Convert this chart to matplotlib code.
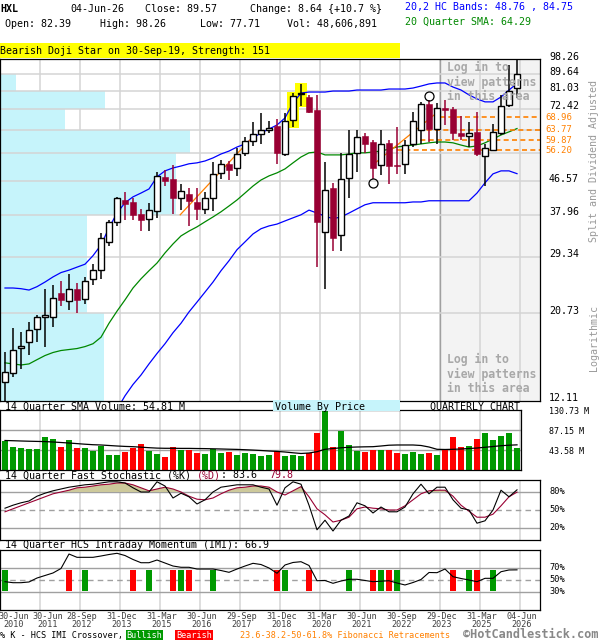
import numpy as np
import matplotlib
matplotlib.use("Agg")
import matplotlib.pyplot as plt
import matplotlib.transforms as mtransforms
from matplotlib.patches import Rectangle

plt.rcParams['font.family'] = ['DejaVu Sans Mono']

# -------------- Quarterly data, 30-Jun-2010 .. 04-Jun-2026 ----------------
ticker = 'HXL'
last_date = '04-Jun-26'
last_volume = 48606891

opens = [13.6, 14.4, 16.8, 17.4, 18.8, 20.2, 20.2, 23.5, 22.4, 24.0,
         22.6, 25.6, 27.0, 32.1, 36.2, 41.6, 41.0, 38.0, 37.0, 38.8,
         47.9, 47.2, 42.1, 43.0, 41.0, 39.2, 41.9, 49.0, 51.8, 50.5,
         55.2, 59.7, 62.2, 63.7, 65.1, 55.1, 67.7, 79.5, 78.0, 72.0,
         34.1, 44.7, 33.4, 47.6, 55.5, 61.5, 59.3, 51.4, 58.9, 51.4,
         51.7, 58.5, 63.8, 74.9, 64.3, 72.7, 72.3, 62.7, 61.4, 63.0,
         54.2, 56.4, 62.5, 74.2, 82.39]
highs = [16.4, 18.9, 18.5, 19.7, 20.5, 24.0, 24.6, 25.3, 26.4, 25.0,
         25.9, 28.1, 34.0, 36.8, 42.2, 43.5, 41.9, 39.2, 40.8, 49.3,
         49.8, 51.3, 45.7, 44.7, 44.7, 43.5, 52.4, 53.1, 52.6, 56.9,
         61.1, 67.0, 70.8, 67.5, 68.0, 70.6, 79.7, 84.5, 79.0, 79.0,
         52.4, 46.1, 55.4, 63.7, 63.7, 62.4, 59.9, 63.7, 59.9, 65.0,
         59.9, 71.3, 75.7, 76.5, 75.3, 76.5, 73.4, 69.3, 67.0, 71.3,
         58.5, 66.1, 79.0, 95.0, 98.26]
lows = [12.11, 14.0, 14.7, 16.1, 17.4, 16.9, 19.1, 21.7, 21.2, 20.8,
        21.9, 24.6, 25.5, 31.3, 35.3, 36.8, 36.7, 34.3, 34.3, 37.1,
        45.1, 38.0, 39.0, 35.3, 36.7, 38.0, 38.8, 47.1, 46.8, 48.0,
        54.2, 57.7, 58.5, 62.4, 51.8, 54.2, 65.0, 74.0, 70.5, 27.6,
        24.0, 30.3, 30.3, 42.1, 49.2, 55.4, 47.2, 48.3, 45.9, 48.7,
        48.7, 57.3, 58.5, 59.1, 58.6, 65.7, 60.1, 59.9, 57.3, 54.2,
        45.1, 55.9, 61.9, 73.4, 77.71]
closes = [14.5, 16.6, 17.0, 18.7, 20.2, 20.5, 22.7, 22.5, 24.0, 22.5,
          25.3, 27.0, 32.8, 36.3, 42.0, 40.4, 37.9, 36.8, 39.0, 48.2,
          46.6, 42.0, 43.8, 41.3, 39.2, 42.1, 48.7, 51.8, 50.0, 55.1,
          59.5, 62.2, 63.8, 64.6, 55.5, 67.4, 78.4, 79.8, 71.3, 36.2,
          44.2, 32.8, 47.2, 55.1, 60.9, 58.6, 50.5, 58.5, 51.2, 51.0,
          58.2, 67.4, 74.9, 64.3, 73.1, 72.0, 62.5, 61.5, 62.7, 54.9,
          56.9, 63.0, 73.7, 80.93, 89.57]

hc_upper = [24.2, 24.2, 24.1, 23.9, 24.4, 25.1, 25.9, 26.6, 27.0, 27.5,
            28.0, 29.5, 31.5, 35.0, 38.3, 40.8, 42.3, 43.3, 44.4, 47.8,
            49.6, 50.5, 51.1, 51.8, 52.1, 52.7, 53.7, 55.0, 56.0, 57.4,
            58.5, 60.7, 62.6, 64.1, 65.7, 68.6, 75.2, 79.9, 80.4, 80.4,
            80.4, 80.9, 80.9, 80.9, 81.4, 81.4, 81.4, 81.4, 81.9, 81.9,
            81.9, 82.4, 83.4, 84.5, 85.0, 85.0, 82.9, 81.4, 79.0, 77.1,
            75.7, 75.7, 78.0, 81.4, 84.75]
hc_lower = [9.7, 9.5, 9.5, 9.7, 10.0, 10.2, 10.3, 10.3, 10.2, 10.1,
            10.2, 10.0, 10.3, 10.9, 11.5, 12.5, 13.4, 14.2, 15.2, 16.2,
            17.2, 18.4, 19.5, 20.9, 22.2, 23.6, 25.1, 26.9, 28.6, 30.6,
            32.1, 33.7, 34.8, 35.4, 35.8, 36.5, 37.2, 37.9, 39.0, 38.3,
            37.6, 37.0, 37.4, 38.3, 39.3, 40.3, 40.8, 40.8, 40.8, 40.8,
            40.8, 41.0, 41.0, 41.3, 41.3, 41.3, 41.3, 41.3, 41.3, 43.3,
            46.1, 48.7, 49.6, 49.6, 48.76]
sma20 = [15.3, 15.2, 15.1, 15.2, 15.6, 16.0, 16.3, 16.5, 16.6, 16.7,
         16.9, 17.2, 17.9, 19.5, 21.0, 22.5, 24.2, 25.6, 26.9, 28.2,
         30.0, 31.7, 33.3, 34.3, 35.2, 36.3, 37.4, 38.6, 40.0, 41.5,
         43.3, 45.2, 46.9, 48.1, 49.0, 50.2, 52.1, 54.0, 55.4, 55.7,
         54.7, 54.7, 54.7, 55.0, 55.4, 55.4, 55.7, 56.0, 56.7, 57.4,
         57.8, 58.1, 58.5, 58.9, 59.2, 59.2, 58.9, 58.1, 57.4, 57.8,
         58.9, 60.3, 61.8, 63.0, 64.29]

volume_m = [63.8, 50.1, 47.9, 45.8, 45.8, 71.9, 68.2, 50.1, 65.4, 47.9,
            48.6, 42.1, 52.9, 32.7, 32.7, 39.2, 47.3, 56.6, 42.1, 34.9,
            28.3, 50.1, 43.6, 43.6, 37.0, 34.9, 45.8, 37.0, 39.2, 32.7,
            37.7, 34.9, 31.2, 32.7, 41.4, 30.5, 32.7, 30.5, 36.4, 81.3,
            130.73, 50.8, 85.6, 54.5, 42.1, 39.9, 43.6, 43.6, 43.6, 37.7,
            34.9, 39.2, 34.9, 37.0, 32.7, 45.8, 72.6, 50.8, 52.3, 68.2,
            81.3, 66.0, 74.7, 81.3, 48.61]
vol_sma = [64.3, 63.8, 63.2, 62.7, 62.3, 61.9, 61.0, 59.9, 58.8, 57.5,
           56.2, 55.1, 54.5, 53.4, 52.3, 51.4, 50.8, 49.7, 48.6, 47.7,
           47.3, 47.3, 47.1, 47.1, 46.8, 46.6, 46.2, 45.8, 45.3, 44.9,
           44.2, 43.4, 42.5, 41.4, 40.5, 39.2, 37.5, 36.0, 37.0, 39.9,
           45.1, 46.8, 48.4, 49.5, 50.1, 50.5, 50.8, 52.3, 54.0, 54.5,
           54.5, 54.5, 53.4, 50.1, 45.1, 44.7, 45.1, 45.8, 46.8, 47.9,
           49.5, 51.2, 52.9, 54.0, 54.81]

stoch_k = [53, 58, 62, 65, 73, 78, 82, 85, 88, 90,
           92, 93, 95, 97, 97, 95, 87, 80, 80, 97,
           90, 70, 78, 72, 60, 67, 80, 88, 90, 92,
           92, 92, 88, 85, 58, 87, 97, 93, 58, 17,
           33, 15, 33, 40, 62, 57, 45, 55, 47, 47,
           55, 77, 93, 77, 88, 88, 67, 53, 50, 28,
           32, 50, 83, 72, 83.6]
stoch_d = [47, 52, 57, 62, 67, 72, 77, 80, 83, 87,
           88, 90, 92, 93, 95, 95, 92, 87, 82, 85,
           88, 85, 80, 73, 68, 67, 70, 77, 83, 87,
           88, 90, 90, 88, 80, 75, 82, 89, 72, 52,
           42, 30, 33, 38, 52, 55, 53, 52, 50, 50,
           57, 67, 77, 82, 83, 83, 73, 58, 48, 38,
           38, 43, 57, 72, 79.8]
imi = [47.2, 45.5, 45.5, 46.7, 53.3, 57.5, 61.7, 69.2, 93.3, 87.8,
       87.8, 87.8, 90.0, 92.5, 94.5, 90.8, 84.2, 78.8, 78.8, 83.3,
       78.3, 73.3, 71.2, 71.2, 68.3, 68.3, 68.3, 65.8, 62.8, 68.3,
       73.3, 77.8, 75.8, 70.0, 61.2, 75.0, 79.2, 80.5, 74.2, 48.8,
       49.2, 44.5, 48.3, 51.2, 51.2, 49.2, 47.2, 48.0, 48.8, 45.0,
       41.7, 45.8, 50.8, 62.5, 62.2, 68.3, 55.5, 52.5, 50.0, 47.2,
       52.8, 52.8, 63.8, 66.7, 66.9]
bull_cross = [0, 10, 18, 22, 26, 35, 43, 47, 49, 58, 61]
bear_cross = [8, 16, 21, 23, 34, 38, 46, 48, 56, 59]

date_idx = [0, 4, 9, 14, 19, 24, 29, 34, 39, 44, 49, 54, 59, 64]
date_labels = ['30-Jun\n2010', '30-Jun\n2011', '28-Sep\n2012', '31-Dec\n2013',
               '31-Mar\n2015', '30-Jun\n2016', '29-Sep\n2017', '31-Dec\n2018',
               '31-Mar\n2020', '30-Jun\n2021', '30-Sep\n2022', '29-Dec\n2023',
               '31-Mar\n2025', '04-Jun\n2026']

price_grid = [98.26, 89.64, 81.03, 72.42, 63.80, 55.18, 46.57, 37.96, 29.34, 20.73, 12.11]
price_labels = [98.26, 89.64, 81.03, 72.42, 46.57, 37.96, 29.34, 20.73, 12.11]
vbp = [0, 16, 105, 65, 190, 176, 176, 87, 87, 104]   # volume by price, bands top->bottom

fib_levels = [68.96, 63.77, 59.87, 56.20]
fib_start = [54.4, 50.6, 50.9, 49.0]
trend_lines = [([21.9, 30.6], [37.9, 59.9]), ([45.8, 54.4], [51.1, 72.0])]
circle_idx = [46, 53]
circle_price = [46.1, 78.5]
pattern_idx = [36, 37]
pattern_text = 'Bearish Doji Star on 30-Sep-19, Strength: 151'
login_from = 54.375

# -------------- Colours ----------------
CRIMSON = '#990033'
GREEN = '#009900'
RED = '#ff0000'
BLUE = '#0000ff'
SMA_GREEN = '#008800'
ORANGE = '#ff8000'
CYAN = '#c6f4fb'
GRID = '#d4d4d4'
DARKGRID = '#a0a0a0'
TAN = '#cdc99b'

x = np.arange(len(closes))
o, h, l, c = map(np.array, (opens, highs, lows, closes))
up = c >= o

# -------------- Figure / axes in pixel layout ----------------
W, H = 600, 640
fig = plt.figure(figsize=(W / 100, H / 100), dpi=100)


def px_axes(left, top, right, bottom):
    ax = fig.add_axes([left / W, 1 - bottom / H, (right - left) / W, (bottom - top) / H])
    for s in ax.spines.values():
        s.set_linewidth(0.9)
    return ax


def no_ticks(ax):
    ax.xaxis.set_major_locator(plt.NullLocator())
    ax.xaxis.set_minor_locator(plt.NullLocator())
    ax.yaxis.set_major_locator(plt.NullLocator())
    ax.yaxis.set_minor_locator(plt.NullLocator())


def ftext(xp, yp, s, **kw):
    kw.setdefault('fontsize', 7.2)
    kw.setdefault('va', 'center')
    kw.setdefault('ha', 'left')
    return fig.text(xp / W, 1 - yp / H, s, **kw)


def frect(x0, y0, x1, y1, color):
    fig.add_artist(Rectangle((x0 / W, 1 - y1 / H), (x1 - x0) / W, (y1 - y0) / H,
                             transform=fig.transFigure, facecolor=color, edgecolor='none'))


XL = (-0.625, 66.875)
vgrid = [i + 0.375 for i in date_idx[1:]]

# -------------- Header ----------------
chg = closes[-1] - closes[-2]
ftext(0, 9, ticker, weight='bold')
ftext(70, 9, last_date)
ftext(145, 9, f'Close: {closes[-1]:.2f}')
ftext(250, 9, f'Change: {chg:.2f} {{+{chg / closes[-2] * 100:.1f} %}}')
ftext(405, 7, f'20,2 HC Bands: {hc_lower[-1]:.2f} , {hc_upper[-1]:.2f}', color=BLUE)
ftext(5, 24, f'Open: {opens[-1]:.2f}')
ftext(100, 24, f'High: {highs[-1]:.2f}')
ftext(200, 24, f'Low: {lows[-1]:.2f}')
ftext(287, 24, f'Vol: {last_volume:,}')
ftext(405, 22, f'20 Quarter SMA: {sma20[-1]:.2f}', color=SMA_GREEN)
frect(0, 43, 400, 57.5, '#ffff00')
ftext(0, 50.5, pattern_text)

# -------------- Price panel ----------------
ax = px_axes(0, 59.3, 540, 401)
ax.set_yscale('log')
ax.set_xlim(*XL)
ax.set_ylim(price_grid[-1], price_grid[0])
no_ticks(ax)

ax.axvspan(login_from, XL[1], color='#f3f3f3', zorder=0.2, lw=0)
ax.axvline(login_from, color=DARKGRID, lw=1.0, zorder=0.6)
for g in vgrid:
    ax.axvline(g, color=GRID, lw=1.1, zorder=0.5)

ytr = ax.get_yaxis_transform()
vmax = max(vbp)
for j, v in enumerate(vbp):
    if v > 0:
        ax.add_patch(Rectangle((0, price_grid[j + 1]), v / vmax * 0.352,
                               price_grid[j] - price_grid[j + 1], transform=ytr,
                               facecolor=CYAN, edgecolor='none', zorder=1))
for t in price_grid[1:-1]:
    ax.axhline(t, color=GRID, lw=1.1, zorder=1.5)

for i in pattern_idx:
    ax.add_patch(Rectangle((i - 0.8, l[i] * 0.99), 1.6, h[i] * 1.007 - l[i] * 0.99,
                           facecolor='#ffff00', edgecolor='none', zorder=1.8))

ax.plot(x, hc_upper, color=BLUE, lw=0.9, zorder=2)
ax.plot(x, hc_lower, color=BLUE, lw=0.9, zorder=2)
ax.plot(x, sma20, color=SMA_GREEN, lw=0.9, zorder=2)

for xs, ys in trend_lines:
    ax.plot(xs, ys, color=ORANGE, lw=0.9, zorder=2.5)
for lvl, st in zip(fib_levels, fib_start):
    ax.hlines(lvl, st, XL[1], colors=ORANGE, linestyles=(0, (3, 2)), lw=1.2, zorder=2.5)

for i in x:
    col = 'black' if up[i] else CRIMSON
    ax.vlines(i, l[i], h[i], color=col, lw=1.1, zorder=3)
    lo_b, hi_b = min(o[i], c[i]), max(o[i], c[i])
    if up[i]:
        ax.add_patch(Rectangle((i - 0.34, lo_b), 0.68, hi_b - lo_b, facecolor='white',
                               edgecolor='black', lw=1.0, zorder=4))
    else:
        ax.add_patch(Rectangle((i - 0.36, lo_b), 0.72, hi_b - lo_b, facecolor=CRIMSON,
                               edgecolor=CRIMSON, lw=0.4, zorder=4))
ax.plot(circle_idx, circle_price, 'o', mfc='none', mec='black', ms=6.5, mew=0.9, zorder=5)

lab_tr = mtransforms.offset_copy(ytr, fig=fig, y=1.9, units='points')
for t in price_labels:
    ax.text(549 / 540, t, f'{t:.2f}', transform=lab_tr, fontsize=7.2, va='center',
            ha='left', clip_on=False)
for lvl in fib_levels:
    ax.text(545 / 540, lvl, f'{lvl:.2f}', transform=ytr, fontsize=6.4, va='center',
            ha='left', color=ORANGE, clip_on=False)

for k, s in enumerate(['Log in to', 'view patterns', 'in this area']):
    ftext(447, 67 + 15 * k, s, fontsize=8.3, weight='bold', color='#a8a8a8', zorder=6)
    ftext(447, 359 + 15 * k, s, fontsize=8.3, weight='bold', color='#a8a8a8', zorder=6)

ftext(594, 161, 'Split and Dividend Adjusted', rotation=90, ha='center', color='#999999')
ftext(594, 338, 'Logarithmic', rotation=90, ha='center', color='#999999')

# -------------- Volume panel ----------------
frect(273, 400, 400, 411, CYAN)
ftext(5, 406.5, f'14 Quarter SMA Volume: {vol_sma[-1]:.2f} M')
ftext(275, 406.5, 'Volume By Price')
ftext(430, 406.5, 'QUARTERLY CHART')

axv = px_axes(0, 410, 521, 470)
axv.set_xlim(XL[0], (521 - 5) / 8)
vtop = max(volume_m)
axv.set_ylim(0, vtop)
no_ticks(axv)
for g in vgrid:
    if g < 64.5:
        axv.axvline(g, color=GRID, lw=1.1, zorder=0.5)
for f in (1 / 3, 2 / 3):
    axv.axhline(vtop * f, color=DARKGRID, lw=1.0, zorder=0.6)
axv.bar(x, volume_m, width=0.75, color=[GREEN if u else RED for u in up], zorder=2)
axv.plot(x, vol_sma, color='black', lw=0.9, zorder=3)
vtr = mtransforms.offset_copy(axv.get_yaxis_transform(), fig=fig, y=-1.3, units='points')
for f in (1, 2 / 3, 1 / 3):
    axv.text(549 / 521, vtop * f, f'{vtop * f:.2f} M', transform=vtr, fontsize=6.0,
             va='center', ha='left', clip_on=False)

# -------------- Stochastic panel ----------------
ftext(5, 475.5, '14 Quarter Fast Stochastic (%K) ')
ftext(197, 475.5, '(%D)', color=CRIMSON)
ftext(221, 475.5, f': {stoch_k[-1]:.1f}')
ftext(269, 475.5, f'{stoch_d[-1]:.1f}', color=CRIMSON)

axs = px_axes(0, 480, 540, 540)
axs.set_xlim(*XL)
axs.set_ylim(0, 100)
no_ticks(axs)
for g in vgrid:
    axs.axvline(g, color=GRID, lw=1.1, zorder=0.5)
axs.axhline(80, color=DARKGRID, lw=1.0, zorder=0.6)
axs.axhline(20, color=DARKGRID, lw=1.0, zorder=0.6)
axs.axhline(50, color=DARKGRID, lw=1.0, ls=(0, (4, 3)), zorder=0.6)
sd = np.array(stoch_d, dtype=float)
axs.fill_between(x, sd, 80, where=sd >= 80, interpolate=True, color=TAN, lw=0, zorder=1)
axs.plot(x, stoch_k, color='black', lw=0.8, zorder=3)
axs.plot(x, stoch_d, color=CRIMSON, lw=0.8, zorder=2)
str_ = axs.get_yaxis_transform()
for v in (80, 50, 20):
    axs.text(549 / 540, v, f'{v}%', transform=str_, fontsize=6.2, va='center',
             ha='left', clip_on=False)

# -------------- IMI panel ----------------
ftext(5, 545, f'14 Quarter HCS Intraday Momentum (IMI): {imi[-1]:.1f}')
axi = px_axes(0, 550, 540, 610)
axi.set_xlim(*XL)
axi.set_ylim(0, 100)
no_ticks(axi)
for g in vgrid:
    axi.axvline(g, color=GRID, lw=1.1, zorder=0.5)
axi.axhline(70, color=DARKGRID, lw=1.0, zorder=0.6)
axi.axhline(30, color=DARKGRID, lw=1.0, zorder=0.6)
axi.axhline(50, color=DARKGRID, lw=1.0, ls=(0, (4, 3)), zorder=0.6)
for i in bull_cross:
    axi.add_patch(Rectangle((i - 0.375, 32), 0.75, 35, facecolor=GREEN, edgecolor='none', zorder=1.5))
for i in bear_cross:
    axi.add_patch(Rectangle((i - 0.375, 32), 0.75, 35, facecolor=RED, edgecolor='none', zorder=1.5))
axi.plot(x, imi, color='black', lw=0.8, zorder=3)
itr = axi.get_yaxis_transform()
for v in (70, 50, 30):
    axi.text(549 / 540, v, f'{v}%', transform=itr, fontsize=6.2, va='center',
             ha='left', clip_on=False)

# x date labels
dtr = mtransforms.blended_transform_factory(axi.transData, fig.transFigure)
shift_px = [9, 11] + [5] * (len(date_idx) - 2)
for idx, lab, sp in zip(date_idx, date_labels, shift_px):
    axi.text(idx + sp / 8, 1 - 620.5 / H, lab, transform=dtr, fontsize=6.1, ha='center',
             va='center', color='#404040', linespacing=0.95, clip_on=False)

# -------------- Bottom legend ----------------
ftext(0, 635.5, '% K - HCS IMI Crossover,', fontsize=6.1)
frect(126, 630, 163, 641, GREEN)
ftext(144.5, 635.5, 'Bullish', fontsize=6.1, color='white', ha='center')
frect(175, 630, 213, 641, RED)
ftext(194, 635.5, 'Bearish', fontsize=6.1, color='white', ha='center')
ftext(240, 635.5, '23.6-38.2-50-61.8% Fibonacci Retracements', fontsize=6.1, color=ORANGE)
ftext(463, 634.5, '\u00a9HotCandlestick.com', fontsize=8.6, weight='bold', color='#888888')

fig.savefig('out.png', dpi=100)
